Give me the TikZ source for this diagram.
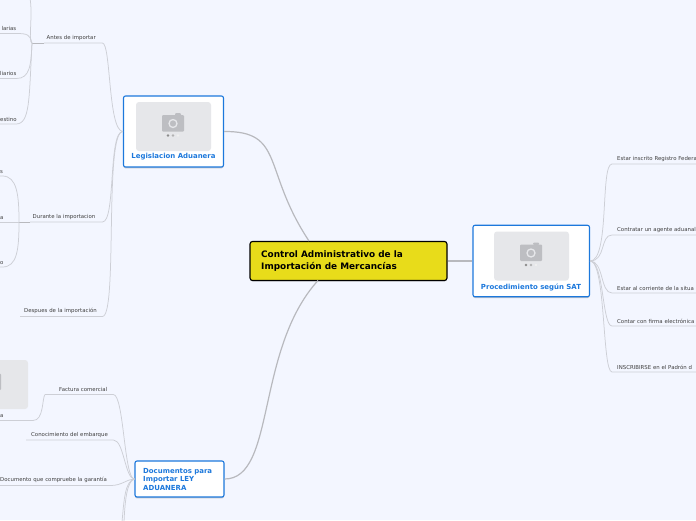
\documentclass[tikz,border=0pt]{standalone}
\usepackage{fontspec}
\setmainfont{DejaVu Sans}
\usepackage{tikz}
\usetikzlibrary{shapes,arrows,positioning,calc,shadows}

\definecolor{bgmap}{HTML}{F3F6FF}
\definecolor{rootfill}{HTML}{E8DC1A}
\definecolor{topicblue}{HTML}{1C78DC}
\definecolor{mapline}{HTML}{CDCFD6}
\definecolor{rootline}{HTML}{B8B9BE}
\definecolor{imgfill}{HTML}{E6E7EA}
\definecolor{camfill}{HTML}{BDBEC2}

\tikzset{
    rootbox/.style={draw=black,line width=1.1pt,fill=rootfill,rounded corners=2.5pt,inner sep=0pt,
        drop shadow={shadow xshift=0pt,shadow yshift=-1pt,opacity=.25}},
    topicbox/.style={draw=topicblue,line width=1.1pt,fill=white,rounded corners=2pt,inner sep=0pt,
        drop shadow={shadow xshift=0pt,shadow yshift=-1.4pt,opacity=.4}},
    imgbox/.style={fill=imgfill,rounded corners=3pt,minimum width=75pt,minimum height=49pt,inner sep=0pt},
    topictext/.style={text=topicblue,font=\fontsize{6.95}{8.6}\selectfont\bfseries,inner sep=0pt,align=#1},
    rootext/.style={text=black,font=\fontsize{8.9}{11.2}\selectfont\bfseries,inner sep=0pt,align=left},
    leaf/.style={anchor=south west,text=black!75,font=\fontsize{5.4}{6}\selectfont,inner ysep=2.5pt,
        inner xsep=2.5pt,text width=#1,align=left},
    leftleaf/.style={anchor=south west,text=black!75,font=\fontsize{5.4}{6}\selectfont,inner ysep=2.5pt,
        inner xsep=0pt,text width=#1,align=right},
    mapedge/.style={draw=mapline,line width=0.75pt},
    joinedge/.style={draw=rootline,line width=1pt},
    rootedge/.style={draw=rootline,line width=1.2pt}
}

\newcommand{\camicon}[2]{
    \begin{scope}[shift={(#1,#2)}]
        \fill[camfill,rounded corners=1pt] (-11,-8.5) rectangle (11,8);
        \fill[camfill,rounded corners=1pt] (2,-10.5) rectangle (8,-8);
        \draw[imgfill,line width=1.3pt] (0,0) circle (4pt);
        \fill[black!45] (-5,12) circle (1.4pt);
        \fill[black!30] (0,12) circle (1.4pt);
        \fill[black!6] (5,12) circle (1.4pt);
    \end{scope}
}

\begin{document}
\begin{tikzpicture}[x=1pt,y=-1pt]
    \useasboundingbox (0,0) rectangle (696,520);
    \clip (0,0) rectangle (696,520);
    \fill[bgmap] (0,0) rectangle (696,520);

    % central topic
    \node[rootbox,minimum width=197pt,minimum height=39pt] (root) at (348.5,261) {};
    \node[rootext,anchor=west] (roottext) at (261,261) {Control Administrativo de la\\Importación de Mercancías};

    % main topics
    \node[topicbox,minimum width=100pt,minimum height=71pt] (legis) at (173.5,131.5) {};
    \node[imgbox] (legisimg) at (173.5,126.5) {};
    \camicon{173}{123.5}
    \node[topictext=center] (legistext) at (173.5,157) {Legislacion Aduanera};

    \node[topicbox,minimum width=116.5pt,minimum height=71.5pt] (proc) at (531.25,261) {};
    \node[imgbox] (procimg) at (531.5,256) {};
    \camicon{531}{253}
    \node[topictext=center] (proctext) at (531,287) {Procedimiento según SAT};

    \node[topicbox,minimum width=89pt,minimum height=36pt] (docs) at (179.5,479) {};
    \node[topictext=left,anchor=west] (docstext) at (143,479.5) {Documentos para\\Importar LEY\\ADUANERA};

    % picture of the invoice branch
    \node[imgbox] (factimg) at (-9.5,384.5) {};
    \camicon{-10}{382}

    % subtopics, left side
    \node[leaf=53pt] (antes) at (44,43) {Antes de importar};
    \node[leaf=67pt] (durante) at (30,222) {Durante la importacion};
    \node[leaf=77pt] (despues) at (20,316.5) {\hspace{1.5pt}Despues de la importación};
    \node[leftleaf=16pt] (larias) at (0,33.5) {larias};
    \node[leftleaf=16pt] (liarios) at (0,78.5) {liarios};
    \node[leftleaf=15.5pt] (estino) at (0,124) {estino};
    \node[leftleaf=2pt] (durs) at (0,176) {s};
    \node[leftleaf=2pt] (dura) at (0,222) {a};
    \node[leftleaf=2pt] (duro) at (0,267) {o};

    \node[leaf=63pt] (factura) at (45,394.5) {\hspace{11.5pt}Factura comercial};
    \node[leftleaf=3pt] (facta) at (0,420.5) {a};
    \node[leaf=82pt] (conoc) at (26,440) {\hspace{2.5pt}Conocimiento del embarque};
    \node[leaf=108pt] (garantia) at (-2.5,485.5) {Documento que compruebe la garantía};

    % subtopics, right side
    \node[leaf=100pt,inner xsep=5pt] (rfc) at (612,164) {Estar inscrito Registro Federa};
    \node[leaf=100pt,inner xsep=5pt] (agente) at (612,235) {Contratar un agente aduanal};
    \node[leaf=100pt,inner xsep=5pt] (situa) at (612,293) {Estar al corriente de la situa};
    \node[leaf=100pt,inner xsep=5pt] (firma) at (612,326) {Contar con firma electrónica};
    \node[leaf=100pt,inner xsep=5pt] (padron) at (612,372) {INSCRIBIRSE en el Padrón d};

    % free ends
    \coordinate (antesjoin) at (32,43);
    \coordinate (durjoin) at (19,222);
    \coordinate (anteup) at (30,-2);
    \coordinate (docsdowna) at (122,522);
    \coordinate (docsdownb) at (124,522);

    % root connectors
    \draw[rootedge] (legis.east) .. controls (285,131) and (262,170) .. (309,241);
    \draw[rootedge] (root.east) -- (proc.west);
    \draw[rootedge] (docs.east) .. controls (276,479) and (255,350) .. (318,280.5);

    % legislacion
    \draw[mapedge] (legis.west) .. controls (108,131) and (111,43) .. (antes.south east) -- (antes.south west);
    \draw[mapedge] (legis.west) .. controls (108,131) and (116,222) .. (durante.south east) -- (durante.south west);
    \draw[mapedge] (legis.west) .. controls (104,131) and (118,316.5) .. (despues.south east) -- (despues.south west);
    \draw[joinedge] (antes.south west) -- (antesjoin);
    \draw[joinedge] (durante.south west) -- (durjoin);

    \draw[mapedge] (antesjoin) .. controls (28,43) and (33,15) .. (anteup);
    \draw[mapedge] (antesjoin) .. controls (30,35) and (28,33.5) .. (larias.south east) -- (larias.south west);
    \draw[mapedge] (antesjoin) .. controls (31,65) and (30,78.5) .. (liarios.south east) -- (liarios.south west);
    \draw[mapedge] (antesjoin) .. controls (29,100) and (30,124) .. (estino.south east) -- (estino.south west);
    \draw[mapedge] (durjoin) .. controls (19,195) and (17,176) .. (durs.south east) -- (durs.south west);
    \draw[mapedge] (durjoin) -- (dura.south west);
    \draw[mapedge] (durjoin) .. controls (19,250) and (17,267) .. (duro.south east) -- (duro.south west);

    % documentos
    \draw[mapedge] (docs.west) .. controls (124,479) and (124,395) .. (factura.south east) -- (factura.south west);
    \draw[mapedge] (factura.south west) .. controls (42,398) and (44,420.5) .. (33,420.5) -- (facta.south west);
    \draw[mapedge] (docs.west) .. controls (125,479) and (124,440) .. (conoc.south east) -- (conoc.south west);
    \draw[mapedge] (docs.west) .. controls (127,479) and (122,485.5) .. (garantia.south east) -- (garantia.south west);
    \draw[mapedge] (docs.west) .. controls (125,481) and (124,500) .. (docsdowna);
    \draw[mapedge] (docs.west) .. controls (127,481) and (125,500) .. (docsdownb);

    % procedimiento
    \draw[mapedge] (proc.east) .. controls (610,261) and (600,164) .. (rfc.south west) -- (rfc.south east);
    \draw[mapedge] (proc.east) .. controls (606,261) and (600,235) .. (agente.south west) -- (agente.south east);
    \draw[mapedge] (proc.east) .. controls (604,261) and (600,293) .. (situa.south west) -- (situa.south east);
    \draw[mapedge] (proc.east) .. controls (604,261) and (602,326) .. (firma.south west) -- (firma.south east);
    \draw[mapedge] (proc.east) .. controls (606,261) and (602,372) .. (padron.south west) -- (padron.south east);
\end{tikzpicture}
\end{document}
